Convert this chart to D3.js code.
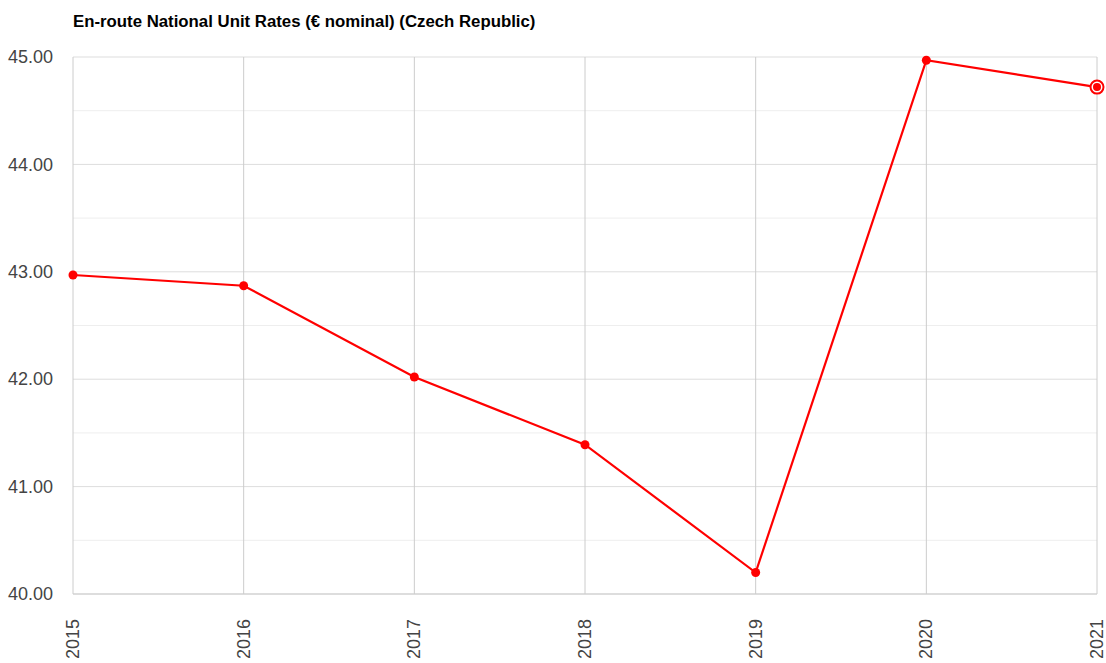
<!DOCTYPE html>
<html>
<head>
<meta charset="utf-8">
<script src="https://cdn.jsdelivr.net/npm/d3@7"></script>
<style>
  html, body { margin: 0; padding: 0; background: #fff; }
  svg { display: block; font-family: "Liberation Sans", Arial, sans-serif; }
</style>
</head>
<body>
<svg id="chart" width="1106" height="663"></svg>
<script>
// En-route national unit rates, Czech Republic (EUR, nominal)
const years = ["2015", "2016", "2017", "2018", "2019", "2020", "2021"];
const rates = [42.97, 42.87, 42.02, 41.39, 40.20, 44.97, 44.72];
const yTicks = [40, 41, 42, 43, 44, 45];
const yMinorTicks = [40.5, 41.5, 42.5, 43.5, 44.5];
const title = "En-route National Unit Rates (€ nominal) (Czech Republic)";

const svg = d3.select("#chart");
const margin = { left: 73, right: 9, top: 57, bottom: 69 };
const W = 1106, H = 663;

const x = d3.scalePoint().domain(years).range([margin.left, W - margin.right]);
const y = d3.scaleLinear().domain([40, 45]).range([H - margin.bottom, margin.top]);

// minor horizontal grid
svg.append("g").selectAll("line").data(yMinorTicks).join("line")
  .attr("x1", margin.left).attr("x2", W - margin.right)
  .attr("y1", d => y(d)).attr("y2", d => y(d))
  .attr("stroke", "#eeeeee").attr("stroke-width", 1);

// major horizontal grid
svg.append("g").selectAll("line").data(yTicks).join("line")
  .attr("x1", margin.left).attr("x2", W - margin.right)
  .attr("y1", d => y(d)).attr("y2", d => y(d))
  .attr("stroke", "#dddddd").attr("stroke-width", 1);

// vertical grid
svg.append("g").selectAll("line").data(years).join("line")
  .attr("x1", d => x(d)).attr("x2", d => x(d))
  .attr("y1", y(45)).attr("y2", y(40))
  .attr("stroke", "#cccccc").attr("stroke-width", 1);

// baseline
svg.append("line")
  .attr("x1", margin.left).attr("x2", W - margin.right)
  .attr("y1", y(40)).attr("y2", y(40))
  .attr("stroke", "#cccccc");

// y axis labels
const yAxis = d3.axisLeft(y).tickValues(yTicks).tickSize(0).tickPadding(20)
  .tickFormat(d3.format(".2f"));
const gy = svg.append("g").attr("transform", `translate(${margin.left},0)`).call(yAxis);
gy.select(".domain").remove();
gy.selectAll("text").attr("font-size", 18).attr("fill", "#444")
  .attr("font-family", "'Liberation Sans', Arial, sans-serif");

// x axis labels (rotated)
const xAxis = d3.axisBottom(x).tickSize(0).tickPadding(0);
const gx = svg.append("g").attr("transform", `translate(0,${y(40)})`).call(xAxis);
gx.select(".domain").remove();
gx.selectAll("text")
  .attr("font-size", 18).attr("fill", "#444")
  .attr("font-family", "'Liberation Sans', Arial, sans-serif")
  .attr("text-anchor", "end")
  .attr("dy", "0.3em")
  .attr("transform", "translate(0,25) rotate(-90)")
  .attr("y", 0).attr("x", 0);

// line
const line = d3.line().x((d, i) => x(years[i])).y(d => y(d));
svg.append("path").datum(rates)
  .attr("d", line).attr("fill", "none")
  .attr("stroke", "#ff0000").attr("stroke-width", 2.2);

// points
const last = rates.length - 1;
svg.append("g").selectAll("circle").data(rates).join("circle")
  .attr("cx", (d, i) => x(years[i])).attr("cy", d => y(d))
  .attr("r", (d, i) => i === last ? 6.5 : 4.5)
  .attr("fill", (d, i) => i === last ? "#fff" : "#ff0000")
  .attr("stroke", (d, i) => i === last ? "#ff0000" : "none")
  .attr("stroke-width", 2);
svg.append("circle")
  .attr("cx", x(years[last])).attr("cy", y(rates[last]))
  .attr("r", 4).attr("fill", "#ff0000");

// title
svg.append("text").attr("x", margin.left).attr("y", 27)
  .attr("font-size", 16.8).attr("font-weight", "bold").attr("fill", "#000")
  .text(title);
</script>
</body>
</html>
